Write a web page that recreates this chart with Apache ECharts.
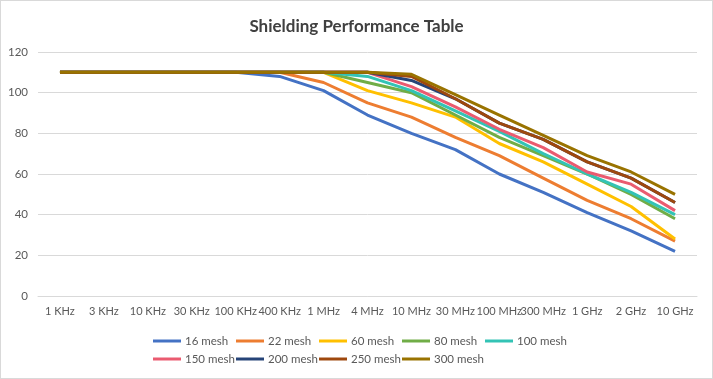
<!DOCTYPE html>
<html><head><meta charset="utf-8">
<script src="https://cdn.jsdelivr.net/npm/echarts@6/dist/echarts.min.js"></script>
<style>html,body{margin:0;padding:0;background:#fff}#c{width:713px;height:379px;box-sizing:border-box;border:1px solid #D9D9D9}</style>
</head><body><div id="c"></div>
<script>
const categories = ['1 KHz','3 KHz','10 KHz','30 KHz','100 KHz','400 KHz','1 MHz','4 MHz','10 MHz','30 MHz','100 MHz','300 MHz','1 GHz','2 GHz','10 GHz'];
const seriesNames = ['16 mesh','22 mesh','60 mesh','80 mesh','100 mesh','150 mesh','200 mesh','250 mesh','300 mesh'];
const mesh16  = [110,110,110,110,110,108,101,89,80,72,60,51,41,32,22];
const mesh22  = [110,110,110,110,110,110,105,95,88,78,69,58,47,38,27];
const mesh60  = [110,110,110,110,110,110,110,101,95,88,75,66,55,44,28];
const mesh80  = [110,110,110,110,110,110,110,105,100,89,78,69,60,50,38];
const mesh100 = [110,110,110,110,110,110,110,108,101,91,81,70,60,51,40];
const mesh150 = [110,110,110,110,110,110,110,110,103,93,82,73,61,55,42];
const mesh200 = [110,110,110,110,110,110,110,110,106,97,85,77,66,58,46];
const mesh250 = [110,110,110,110,110,110,110,110,108,97,85,77,66,58,46];
const mesh300 = [110,110,110,110,110,110,110,110,109,99,89,79,69,61,50];
const yTicks = [0,20,40,60,80,100,120];

const allData = [mesh16,mesh22,mesh60,mesh80,mesh100,mesh150,mesh200,mesh250,mesh300];
const colors = ['#4472C4','#ED7D31','#FFC000','#70AD47','#33C3B5','#EA5B70','#264478','#9E480E','#997300'];
const font = 'Lato, "Open Sans", sans-serif';

const legends = seriesNames.map((n,i)=>({
  left: 152 + (i%5)*83, top: 334 + Math.floor(i/5)*18,
  itemGap:0, icon:'rect', itemWidth:28, itemHeight:3, padding:0,
  textStyle:{fontFamily:font,fontSize:11.5,color:'#595959',padding:[0,0,0,-1]},
  data:[n]
}));

const chart = echarts.init(document.getElementById('c'));
chart.setOption({
  animation:false,
  color: colors,
  title:{text:'Shielding Performance Table',left:'center',top:12,
    textStyle:{fontFamily:font,fontSize:17,fontWeight:'bold',color:'#404040'}},
  grid:{left:37,right:15,top:51,bottom:82},
  legend: legends,
  xAxis:{type:'category',data:categories,boundaryGap:true,
    axisLine:{lineStyle:{color:'#D9D9D9'}},axisTick:{show:false},
    axisLabel:{interval:0,fontFamily:font,fontSize:11,color:'#595959',margin:10}},
  yAxis:{type:'value',min:yTicks[0],max:yTicks[yTicks.length-1],interval:20,
    axisLine:{show:false},axisTick:{show:false},
    splitLine:{lineStyle:{color:'#D9D9D9'}},
    axisLabel:{fontFamily:font,fontSize:11.5,color:'#595959',margin:10}},
  series: seriesNames.map((n,i)=>({name:n,type:'line',data:allData[i],showSymbol:false,symbol:'none',
    lineStyle:{width:3,color:colors[i]},itemStyle:{color:colors[i]}}))
});
</script></body></html>
